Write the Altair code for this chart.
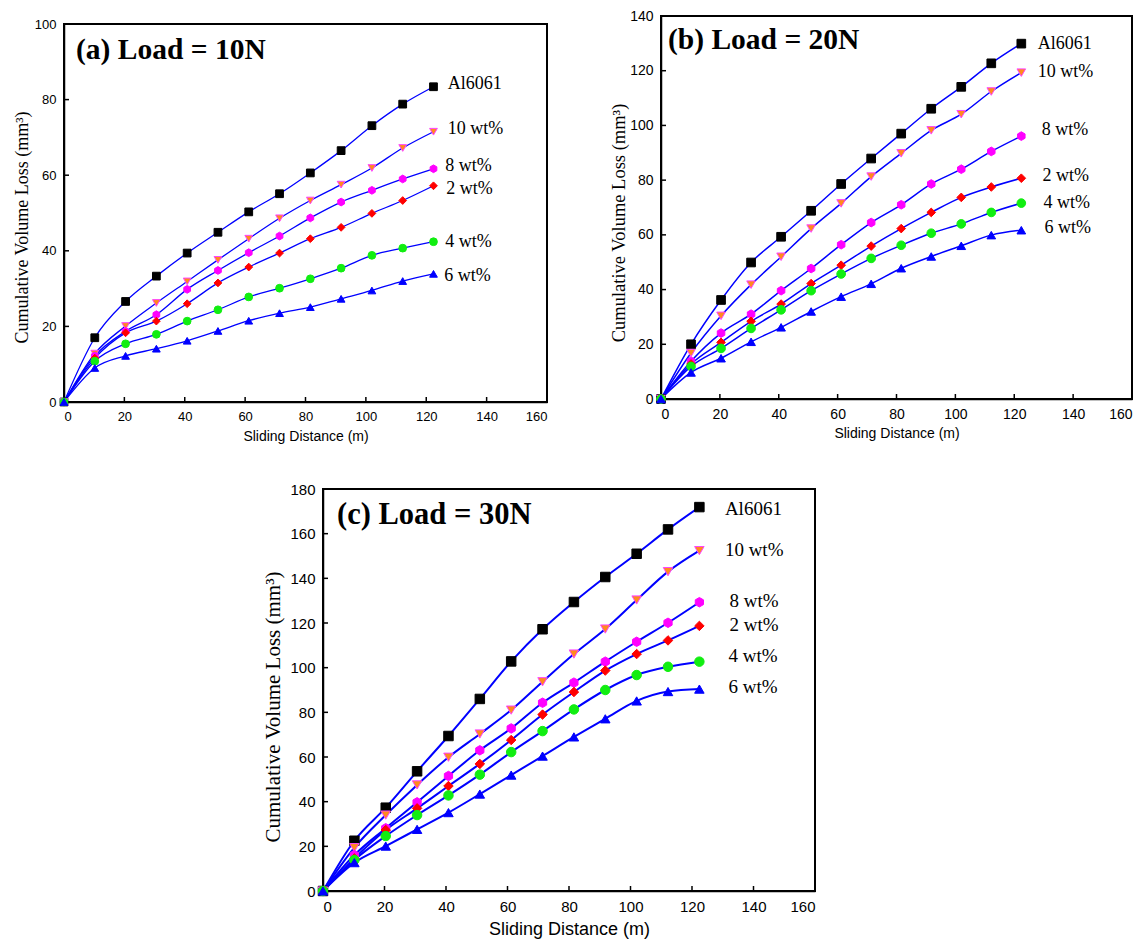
import altair as alt
import pandas as pd

SERIF = "Liberation Serif"
SANS = "Liberation Sans"

x_dist = [0, 10.2, 20.4, 30.6, 40.8, 51.0, 61.2, 71.4, 81.6, 91.8, 102.0, 112.2, 122.4]
series_names = ["Al6061", "10 wt%", "8 wt%", "2 wt%", "4 wt%", "6 wt%"]
x_ticks = [0, 20, 40, 60, 80, 100, 120, 140, 160]

# Panel (a) Load = 10N
a_al6061 = [0, 17.0, 26.6, 33.3, 39.4, 44.9, 50.3, 55.1, 60.6, 66.5, 73.1, 78.8, 83.4]
a_10wt = [0, 12.8, 20.1, 26.2, 31.9, 37.6, 43.2, 48.6, 53.3, 57.5, 61.9, 67.2, 71.5]
a_8wt = [0, 12.2, 18.7, 23.1, 29.8, 34.8, 39.5, 43.9, 48.7, 52.9, 56.0, 59.0, 61.7]
a_2wt = [0, 11.6, 18.3, 21.4, 26.0, 31.5, 35.7, 39.4, 43.2, 46.2, 49.9, 53.3, 57.2]
a_4wt = [0, 10.8, 15.4, 17.9, 21.4, 24.4, 27.8, 30.1, 32.6, 35.4, 38.8, 40.7, 42.4]
a_6wt = [0, 9.0, 12.2, 14.1, 16.2, 18.8, 21.5, 23.5, 25.1, 27.3, 29.5, 32.0, 33.9]
a_label_x = [127.1, 127.1, 126.3, 126.6, 126.3, 126.0]
a_label_y = [84.2, 72.1, 62.4, 56.4, 42.3, 33.3]
a_y_ticks = [0, 20, 40, 60, 80, 100]

# Panel (b) Load = 20N
b_al6061 = [0, 20.0, 36.2, 49.9, 59.3, 68.8, 78.6, 87.9, 97.0, 106.1, 114.1, 122.7, 129.9]
b_10wt = [0, 16.8, 30.4, 41.8, 52.0, 62.3, 71.5, 81.3, 89.8, 98.2, 104.1, 112.4, 119.3]
b_8wt = [0, 13.8, 24.1, 31.0, 39.6, 47.7, 56.4, 64.5, 71.0, 78.6, 84.0, 90.5, 96.1]
b_2wt = [0, 12.8, 20.7, 28.4, 34.7, 42.2, 48.9, 55.9, 62.3, 68.2, 73.7, 77.5, 80.7]
b_4wt = [0, 11.9, 18.5, 25.8, 32.6, 39.6, 45.7, 51.4, 56.2, 60.6, 64.0, 68.2, 71.6]
b_6wt = [0, 9.7, 14.9, 20.9, 26.2, 32.0, 37.4, 42.1, 47.8, 52.1, 56.0, 59.9, 61.7]
b_label_x = [128.0, 128.0, 129.3, 129.6, 129.9, 130.3]
b_label_y = [129.7, 119.6, 98.2, 81.5, 71.7, 62.4]
b_y_ticks = [0, 20, 40, 60, 80, 100, 120, 140]

# Panel (c) Load = 30N
c_al6061 = [0, 22.5, 37.3, 53.6, 69.4, 86.0, 102.8, 117.2, 129.4, 140.6, 151.0, 161.9, 171.9]
c_10wt = [0, 19.4, 34.0, 47.5, 59.9, 70.3, 81.0, 93.7, 106.1, 117.3, 130.3, 143.0, 152.4]
c_8wt = [0, 16.1, 28.1, 39.7, 51.5, 63.0, 72.8, 84.3, 93.3, 102.7, 111.6, 120.1, 129.3]
c_2wt = [0, 14.6, 27.3, 37.0, 47.0, 56.9, 67.6, 79.0, 89.1, 98.7, 106.1, 112.2, 118.7]
c_4wt = [0, 13.9, 24.6, 34.0, 42.8, 52.1, 62.2, 71.6, 81.3, 90.0, 96.7, 100.4, 102.7]
c_6wt = [0, 12.7, 20.1, 27.6, 35.1, 43.4, 51.9, 60.4, 69.0, 77.1, 85.1, 89.3, 90.4]
c_label_x = [130.7, 130.7, 132.2, 132.2, 131.9, 131.9]
c_label_y = [171.0, 152.7, 129.9, 119.1, 105.2, 91.3]
c_y_ticks = [0, 20, 40, 60, 80, 100, 120, 140, 160, 180]

HEX = "M0,-1L0.866,-0.5L0.866,0.5L0,1L-0.866,0.5L-0.866,-0.5Z"
shape_range = ["square", "triangle-down", HEX, "diamond", "circle", "triangle-up"]
fill_range = ["#000000", "#ff8a1c", "#ff00ff", "#ff0000", "#11ee11", "#0000ff"]
stroke_a = ["#000000", "#ff44ff", "#ff00ff", "#ff0000", "#11ee11", "#0000ff"]
stroke_bc = ["#4a4aff", "#4a4aff", "#4a4aff", "#4a4aff", "#4a4aff", "#0000ff"]


def panel(series, y_ticks, w, h, lx, ly, title, p):
    ymax = y_ticks[-1]
    rows = []
    for name, vals in zip(series_names, series):
        for xv, yv in zip(x_dist, vals):
            rows.append({"series": name, "x": xv, "y": yv})
    df = pd.DataFrame(rows)
    lab = pd.DataFrame({"name": series_names, "x": lx, "y": ly})

    xsc = alt.Scale(domain=[0, 160], nice=False)
    ysc = alt.Scale(domain=[0, ymax], nice=False)
    xaxis = alt.Axis(values=x_ticks, title="Sliding Distance (m)", ticks=False,
                     labelFont=SANS, labelFontSize=p["tick"], labelPadding=8,
                     titleFont=SANS, titleFontSize=p["xt"], titleFontWeight="normal",
                     titleX=w / 2, titleY=p["xty"], titleBaseline="middle", titleAlign="center")
    yaxis = alt.Axis(values=y_ticks, ticks=False,
                     title="Cumulative Volume Loss (mm\u00b3)",
                     labelFont=SANS, labelFontSize=p["tick"], labelPadding=8,
                     titleFont=SERIF, titleFontSize=p["yt"], titleFontWeight="normal",
                     titleX=p["ytx"], titleY=h / 2 + p["yty"], titleAngle=270,
                     titleBaseline="middle", titleAlign="center")
    X = alt.X("x:Q", scale=xsc, axis=xaxis)
    Y = alt.Y("y:Q", scale=ysc, axis=yaxis)

    base = alt.Chart(df)
    lines = base.mark_line(interpolate="monotone", color="#0000ff", strokeWidth=p["lw"]).encode(
        x=X, y=Y, detail="series:N",
    )
    pts = base.mark_point(filled=True, size=p["ms"], opacity=1, strokeWidth=1).encode(
        x=X, y=Y,
        shape=alt.Shape("series:N", scale=alt.Scale(domain=series_names, range=shape_range), legend=None),
        fill=alt.Fill("series:N", scale=alt.Scale(domain=series_names, range=fill_range), legend=None),
        stroke=alt.Stroke("series:N", scale=alt.Scale(domain=series_names, range=p["stroke"]), legend=None),
    )
    labels = alt.Chart(lab).mark_text(font=SERIF, fontSize=p["lab"], align="left",
                                      baseline="middle", color="black").encode(
        x=X, y=Y, text="name:N",
    )
    ttl = alt.Chart(pd.DataFrame({"t": [title]})).mark_text(
        font=SERIF, fontWeight="bold", fontSize=p["ts"], align="left", baseline="middle",
        color="black").encode(x=alt.value(p["tx"]), y=alt.value(p["ty"]), text="t:N")
    xt = alt.Chart(pd.DataFrame({"x": x_ticks})).mark_rule(color="black", strokeWidth=1.5).encode(
        x=X, y=alt.value(h), y2=alt.value(h - 5))
    yt = alt.Chart(pd.DataFrame({"y": y_ticks})).mark_rule(color="black", strokeWidth=1.5).encode(
        y=Y, x=alt.value(0), x2=alt.value(5))
    layers = [xt, yt, lines, pts, labels, ttl]
    return alt.layer(*layers).properties(
        width=w, height=h, view=alt.ViewBackground(stroke="black", strokeWidth=2))


pa = dict(tick=13, xt=14, xty=34, yt=18, ytx=-42, yty=14, lw=1.3, ms=60, stroke=stroke_a,
          lab=18, ts=29.5, tx=12, ty=26)
pb = dict(tick=14, xt=14, xty=34, yt=18.5, ytx=-43, yty=15, lw=1.5, ms=75, stroke=stroke_bc,
          lab=18, ts=29.5, tx=7, ty=24)
pc = dict(tick=15, xt=18, xty=38, yt=21, ytx=-50, yty=16.5, lw=2, ms=90, stroke=stroke_bc,
          lab=19, ts=30.5, tx=14, ty=26)

chart_a = panel([a_al6061, a_10wt, a_8wt, a_2wt, a_4wt, a_6wt], a_y_ticks, 483, 378,
                a_label_x, a_label_y, "(a) Load = 10N", pa)
chart_b = panel([b_al6061, b_10wt, b_8wt, b_2wt, b_4wt, b_6wt], b_y_ticks, 471, 383,
                b_label_x, b_label_y, "(b) Load = 20N", pb)
chart_c = panel([c_al6061, c_10wt, c_8wt, c_2wt, c_4wt, c_6wt], c_y_ticks, 492, 402,
                c_label_x, c_label_y, "(c) Load = 30N", pc)


def spacer(w, h):
    return alt.Chart(pd.DataFrame({"a": [0]})).mark_point(opacity=0, size=1).encode(
        x=alt.value(0), y=alt.value(0)).properties(
        width=w, height=h, view=alt.ViewBackground(strokeWidth=0))


col_a = alt.vconcat(spacer(10, 1), chart_a, spacing=0)
top = alt.hconcat(col_a, chart_b, spacing=59)
bottom = alt.hconcat(spacer(196, 10), chart_c, spacing=0)
chart = alt.vconcat(top, bottom, spacing=37).properties(
    padding={"left": 12, "top": 8, "right": 0, "bottom": 0}, background="white"
).configure_axis(
    grid=False, domainColor="black", labelColor="black",
    titleColor="black", domainWidth=1.5
).configure_view(strokeWidth=0)

chart.save("out.html", embed_options={"renderer": "svg", "actions": False})
